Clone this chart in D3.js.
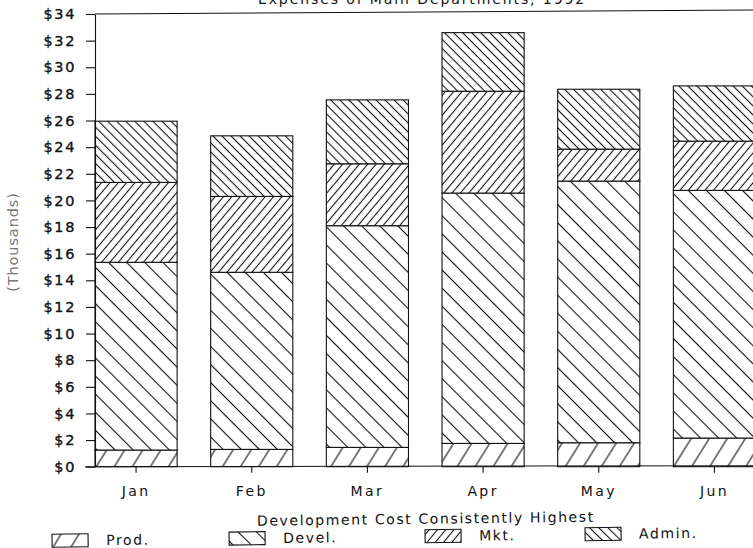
<!DOCTYPE html>
<html>
<head>
<meta charset="utf-8">
<script src="https://cdn.jsdelivr.net/npm/d3@7"></script>
<style>
  html, body { margin: 0; padding: 0; background: #fff; }
  svg { display: block; }
  text { font-family: "DejaVu Sans", sans-serif; fill: #111; }
</style>
</head>
<body>
<svg id="chart" width="753" height="548"></svg>
<script>
// Monthly departmental expenses, in thousands of dollars
const months = ["Jan", "Feb", "Mar", "Apr", "May", "Jun"];
const prod  = [1.25, 1.3, 1.45, 1.75, 1.8, 2.15];
const devel = [14.1, 13.3, 16.65, 18.8, 19.65, 18.6];
const mkt   = [6.0, 5.7, 4.65, 7.65, 2.4, 3.7];
const admin = [4.6, 4.55, 4.8, 4.4, 4.5, 4.15];
const seriesKeys   = ["prod", "devel", "mkt", "admin"];
const seriesLabels = ["Prod.", "Devel.", "Mkt.", "Admin."];
const yTicks = [0, 2, 4, 6, 8, 10, 12, 14, 16, 18, 20, 22, 24, 26, 28, 30, 32, 34];

const titleText = "Expenses of Main Departments, 1992";
const subtitleText = "Development Cost Consistently Highest";
const yTitleText = "(Thousands)";

const rows = months.map((m, i) => ({
  month: m, prod: prod[i], devel: devel[i], mkt: mkt[i], admin: admin[i]
}));

const svg = d3.select("#chart");
const W = 753;
const plotLeft = 95, plotTop = 14, plotBottom = 466.7;

// Hatch fills: rotation of a vertical stroke, and spacing between strokes
const hatch = {
  prod:  { rot: 32,  gap: 15.3 },
  devel: { rot: -45, gap: 12.8 },
  mkt:   { rot: 40,  gap: 6.4 },
  admin: { rot: -45, gap: 6.4 }
};

const defs = svg.append("defs");
seriesKeys.forEach(k => {
  const h = hatch[k];
  const p = defs.append("pattern")
    .attr("id", "hatch-" + k)
    .attr("patternUnits", "userSpaceOnUse")
    .attr("width", h.gap)
    .attr("height", h.gap)
    .attr("patternTransform", `rotate(${h.rot})`);
  p.append("rect").attr("width", h.gap).attr("height", h.gap).attr("fill", "#fff");
  p.append("line")
    .attr("x1", h.gap / 2).attr("x2", h.gap / 2)
    .attr("y1", -1).attr("y2", h.gap + 1)
    .attr("stroke", "#111").attr("stroke-width", 1.1);
});

const x = d3.scaleBand()
  .domain(months)
  .range([plotLeft, 755.5])
  .paddingInner(0.29)
  .paddingOuter(0);

const y = d3.scaleLinear()
  .domain([0, 34])
  .range([plotBottom, plotTop]);

// Stacked bars
const stack = d3.stack().keys(seriesKeys)(rows);

svg.append("g")
  .selectAll("g")
  .data(stack)
  .join("g")
  .attr("fill", d => `url(#hatch-${d.key})`)
  .selectAll("rect")
  .data(d => d)
  .join("rect")
  .attr("x", d => x(d.data.month))
  .attr("width", x.bandwidth())
  .attr("y", d => y(d[1]))
  .attr("height", d => y(d[0]) - y(d[1]))
  .attr("stroke", "#111")
  .attr("stroke-width", 1.1);

// Y axis
const yAxis = svg.append("g")
  .attr("transform", `translate(${plotLeft},0)`)
  .call(d3.axisLeft(y)
    .tickValues(yTicks)
    .tickFormat(d => "$" + d)
    .tickSize(9)
    .tickSizeOuter(0)
    .tickPadding(10));
yAxis.select(".domain").attr("stroke", "#111").attr("stroke-width", 1.1);
yAxis.selectAll(".tick line").attr("stroke", "#111").attr("stroke-width", 1.1);
yAxis.selectAll(".tick text")
  .style("font-family", "DejaVu Sans, sans-serif")
  .style("font-size", "14.5px")
  .style("letter-spacing", "1.6px")
  .attr("fill", "#111")
  .attr("stroke", "#111")
  .attr("stroke-width", 0.35);

// X axis
const xAxis = svg.append("g")
  .attr("transform", `translate(0,${plotBottom})`)
  .call(d3.axisBottom(x).tickSize(6).tickSizeOuter(0).tickPadding(13));
xAxis.select(".domain").remove();
xAxis.selectAll(".tick line").attr("stroke", "#111").attr("stroke-width", 1.1);
xAxis.selectAll(".tick text")
  .style("font-family", "DejaVu Sans, sans-serif")
  .style("font-size", "14px")
  .style("letter-spacing", "2.4px")
  .attr("fill", "#111");

// Baseline and top frame
svg.append("line")
  .attr("x1", 85).attr("x2", W)
  .attr("y1", plotBottom).attr("y2", plotBottom - 1)
  .attr("stroke", "#111").attr("stroke-width", 1.1);
svg.append("line")
  .attr("x1", plotLeft).attr("x2", W)
  .attr("y1", y(34)).attr("y2", y(34) - 4)
  .attr("stroke", "#111").attr("stroke-width", 1.1);

// Title, mostly above the top edge
svg.append("text")
  .attr("x", 422).attr("y", 4)
  .attr("text-anchor", "middle")
  .style("font-size", "14px")
  .style("letter-spacing", "1.9px")
  .text(titleText);

// Y axis title
svg.append("text")
  .attr("transform", "translate(18,242) rotate(-90)")
  .attr("text-anchor", "middle")
  .style("font-size", "14.5px")
  .style("letter-spacing", "0.9px")
  .style("fill", "#777")
  .text(yTitleText);

// Footer: subtitle and legend
const footer = svg.append("g").attr("transform", "rotate(-0.7, 400, 530)");

footer.append("text")
  .attr("x", 426).attr("y", 524)
  .attr("text-anchor", "middle")
  .style("font-size", "14px")
  .style("letter-spacing", "1.6px")
  .text(subtitleText);

const legendX = [52, 229, 425, 585];
const labelGap = 54;
const legend = footer.selectAll("g.legend")
  .data(seriesKeys)
  .join("g")
  .attr("class", "legend")
  .attr("transform", (d, i) => `translate(${legendX[i]},530)`);
legend.append("rect")
  .attr("width", 36).attr("height", 13)
  .attr("fill", d => `url(#hatch-${d})`)
  .attr("stroke", "#111").attr("stroke-width", 1.1);
legend.append("text")
  .attr("x", labelGap).attr("y", 11.5)
  .style("font-size", "14px")
  .style("letter-spacing", "1.6px")
  .text((d, i) => seriesLabels[i]);
</script>
</body>
</html>
